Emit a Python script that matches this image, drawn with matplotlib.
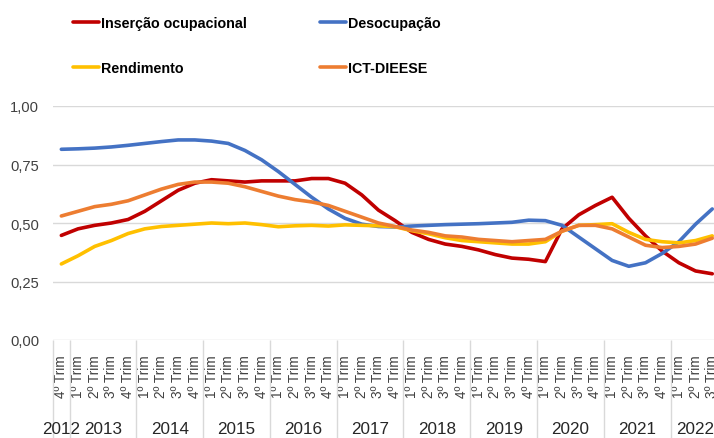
import matplotlib
matplotlib.use("Agg")
import matplotlib.pyplot as plt
import matplotlib.transforms as mtransforms
from matplotlib import font_manager

# Dados (índices trimestrais, 4º Trim 2012 até 3º Trim 2022)
anos = ["2012", "2013", "2014", "2015", "2016", "2017", "2018", "2019", "2020", "2021", "2022"]
trimestres_por_ano = [1, 4, 4, 4, 4, 4, 4, 4, 4, 4, 3]
primeiro_trimestre = 4

insercao = [0.447, 0.475, 0.49, 0.50, 0.515, 0.55, 0.595, 0.64, 0.67, 0.685,
            0.68, 0.675, 0.68, 0.68, 0.68, 0.69, 0.69, 0.67, 0.62, 0.555,
            0.51, 0.46, 0.43, 0.41, 0.40, 0.385, 0.365, 0.35, 0.345, 0.335,
            0.475, 0.535, 0.575, 0.61, 0.52, 0.445, 0.38, 0.33, 0.295, 0.283]
desocupacao = [0.815, 0.817, 0.82, 0.825, 0.832, 0.84, 0.848, 0.855, 0.855, 0.85,
               0.84, 0.81, 0.77, 0.72, 0.665, 0.61, 0.56, 0.52, 0.495, 0.485,
               0.483, 0.487, 0.49, 0.493, 0.495, 0.497, 0.50, 0.503, 0.512, 0.51,
               0.49, 0.44, 0.39, 0.34, 0.315, 0.33, 0.37, 0.42, 0.495, 0.56]
rendimento = [0.325, 0.36, 0.40, 0.425, 0.455, 0.475, 0.485, 0.49, 0.495, 0.50,
              0.497, 0.50, 0.493, 0.484, 0.488, 0.49, 0.487, 0.492, 0.49, 0.488,
              0.484, 0.467, 0.454, 0.437, 0.425, 0.42, 0.415, 0.41, 0.41, 0.42,
              0.465, 0.49, 0.493, 0.497, 0.46, 0.43, 0.42, 0.415, 0.425, 0.445]
ict_dieese = [0.53, 0.55, 0.57, 0.58, 0.595, 0.62, 0.645, 0.665, 0.675, 0.675,
              0.67, 0.655, 0.635, 0.615, 0.60, 0.59, 0.575, 0.55, 0.525, 0.50,
              0.485, 0.47, 0.46, 0.445, 0.44, 0.43, 0.425, 0.42, 0.425, 0.43,
              0.465, 0.49, 0.49, 0.475, 0.44, 0.405, 0.395, 0.40, 0.41, 0.435]

y_ticks = [0.0, 0.25, 0.5, 0.75, 1.0]

# Fonte estreita, se existir
nomes = {f.name for f in font_manager.fontManager.ttflist}
if "Liberation Sans Narrow" in nomes:
    fonte = "Liberation Sans Narrow"
    k = 1.0
else:
    fonte = "Liberation Sans"
    k = 0.82
plt.rcParams["font.family"] = [fonte, "DejaVu Sans"]

# Rótulos dos trimestres
rotulos = []
t = primeiro_trimestre
for n in trimestres_por_ano:
    for _ in range(n):
        rotulos.append(f"{t}º Trim")
        t = t % 4 + 1
x = list(range(len(rotulos)))

fig = plt.figure(figsize=(7.14, 4.39), dpi=100)
ax = fig.add_axes([53 / 714, 1 - 341 / 439, 667.6 / 714, 234 / 439])

ax.plot(x, insercao, color="#C00000", lw=2.6, solid_capstyle="round", solid_joinstyle="round", label="Inserção ocupacional")
ax.plot(x, desocupacao, color="#4472C4", lw=2.6, solid_capstyle="round", solid_joinstyle="round", label="Desocupação")
ax.plot(x, rendimento, color="#FFC000", lw=2.6, solid_capstyle="round", solid_joinstyle="round", label="Rendimento")
ax.plot(x, ict_dieese, color="#ED7D31", lw=2.6, solid_capstyle="round", solid_joinstyle="round", label="ICT-DIEESE")

ax.set_xlim(-0.5, len(x) - 0.5)
ax.set_ylim(0, 1)
ax.set_yticks(y_ticks)
ax.set_yticklabels([f"{v:.2f}".replace(".", ",") for v in y_ticks], fontsize=13 * k, color="#404040")
ax.grid(axis="y", color="#d9d9d9", lw=1)
ax.set_axisbelow(True)
for s in ax.spines.values():
    s.set_visible(False)
ax.tick_params(axis="y", length=0, pad=10)

# Eixo x: trimestres + separadores de anos
ax.set_xticks(x)
ax.set_xticklabels(rotulos, rotation=90, fontsize=12 * k, color="#404040")
ax.tick_params(axis="x", which="major", length=0, pad=10)
limites = [-0.5]
for n in trimestres_por_ano:
    limites.append(limites[-1] + n)
ax.set_xticks(limites, minor=True)
ax.tick_params(axis="x", which="minor", length=72, color="#d9d9d9", width=1)

trans = mtransforms.blended_transform_factory(ax.transData, ax.transAxes)
for ano, a, b in zip(anos, limites[:-1], limites[1:]):
    ax.text((a + b) / 2, -0.38, ano, transform=trans, ha="center", va="center",
            fontsize=15 * k, color="#262626")

# Legenda em duas colunas
linhas = ax.get_lines()
for hs, xpos in [([linhas[0], linhas[2]], 73 / 714), ([linhas[1], linhas[3]], 320 / 714)]:
    fig.legend(handles=hs, loc="upper left", bbox_to_anchor=(xpos, 1 - 17 / 439),
               frameon=False, borderpad=0, borderaxespad=0, handlelength=1.8,
               handletextpad=0.15, labelspacing=2.2,
               prop={"family": [fonte, "DejaVu Sans"], "weight": "bold", "size": 12.5 * k})

fig.savefig("out.png", dpi=100)
